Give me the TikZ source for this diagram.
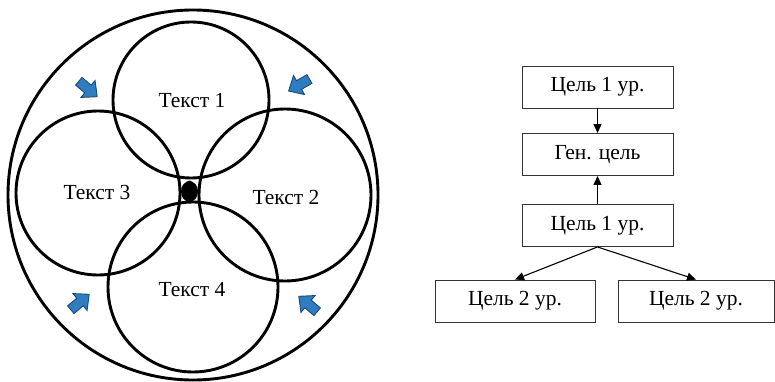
\documentclass[tikz,border=0pt]{standalone}
\usepackage{fontspec}
\setmainfont{Liberation Serif}
\usetikzlibrary{arrows.meta}
\definecolor{arrowblue}{HTML}{2F7DC0}
\definecolor{arrowdark}{HTML}{1A4A75}
\begin{document}
\begin{tikzpicture}[x=1pt,y=-1pt,
  ring/.style={draw=black,line width=2.9pt},
  lbl/.style={font=\fontsize{21.5}{24}\selectfont,inner sep=0pt},
  goal/.style={draw=black!80,line width=0.9pt,minimum width=151pt,minimum height=42pt,inner sep=0pt,font=\fontsize{21.5}{24}\selectfont},
  link/.style={line width=1.1pt,-{Triangle[length=9pt,width=8pt]}},
  blockarrow/.pic={\filldraw[fill=arrowblue,draw=arrowdark,line width=0.9pt] (-12,-5) -- (0,-5) -- (0,-11) -- (12,0) -- (0,11) -- (0,5) -- (-12,5) -- cycle;}
]
\useasboundingbox (0,0) rectangle (775,382);
% circles
\draw[ring] (193,195) circle[radius=185pt];
\draw[ring] (191,100) circle[radius=78pt];
\draw[ring] (98,193) circle[radius=82pt];
\draw[ring] (285,195) circle[radius=86pt];
\draw[ring] (193,287) circle[radius=85pt];
% centre mark
\fill (189.5,180.5) .. controls (194,182) and (198,185) .. (198,191.5) .. controls (198,198) and (194,201) .. (189.5,202.5) .. controls (185,201) and (181,198) .. (181,191.5) .. controls (181,185) and (185,182) .. (189.5,180.5) -- cycle;
% labels
\node[lbl] (t1) at (192,101) {Текст 1};
\node[lbl] (t3) at (97,192) {Текст 3};
\node[lbl] (t2) at (286,197) {Текст 2};
\node[lbl] (t4) at (192,290) {Текст 4};
% blue arrows
\pic[rotate=-40] at (88,89) {blockarrow};
\pic[rotate=-150] at (299,85) {blockarrow};
\pic[rotate=40] at (80,302) {blockarrow};
\pic[rotate=140] at (308,304) {blockarrow};
% flowchart
\node[goal] (g1) at (597.5,87) {Цель 1 ур.};
\node[goal] (gen) at (597.5,154.5) {Ген. цель};
\node[goal] (g1b) at (597.5,225.5) {Цель 1 ур.};
\node[goal,minimum width=160pt] (g2a) at (515,301) {Цель 2 ур.};
\node[goal,minimum width=156pt] (g2b) at (696,301) {Цель 2 ур.};
\draw[link] (g1.south) -- (gen.north);
\draw[link] (g1b.north) -- (gen.south);
\draw[link] (g1b.south) -- (g2a.north);
\draw[link] (g1b.south) -- (g2b.north);
\end{tikzpicture}
\end{document}
